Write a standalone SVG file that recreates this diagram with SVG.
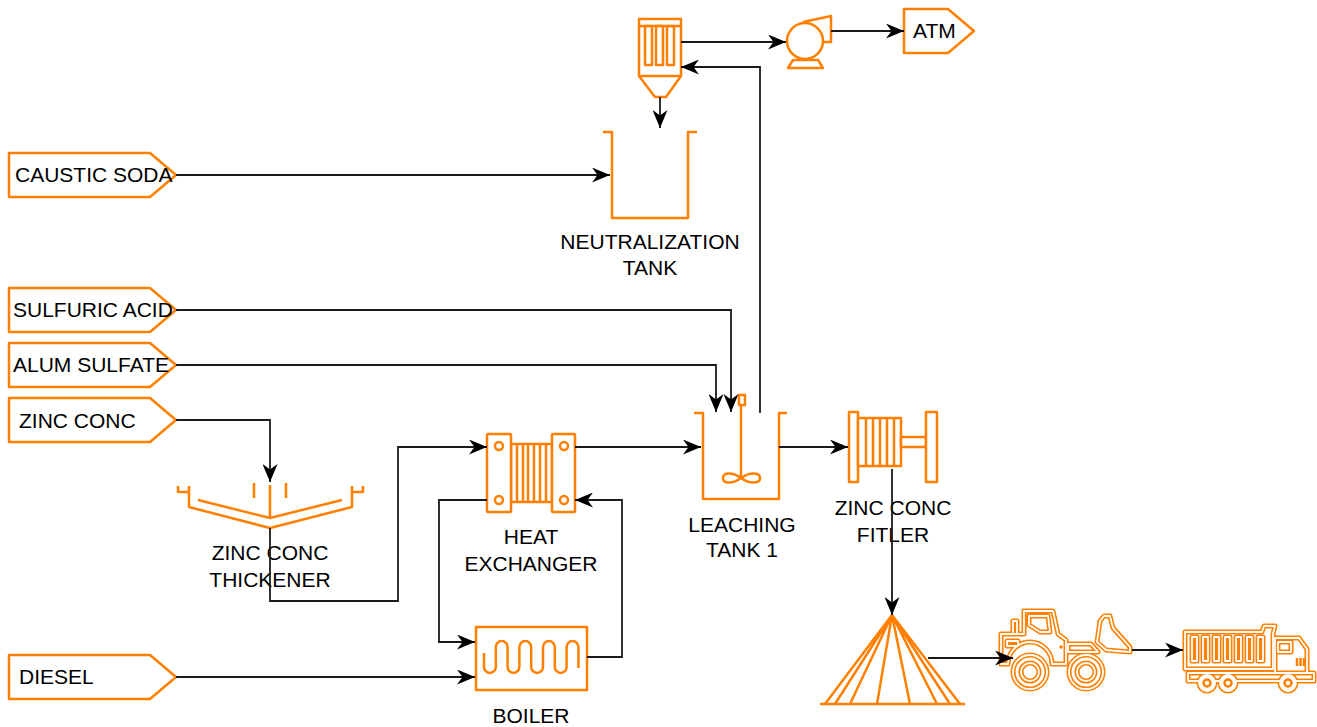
<svg xmlns="http://www.w3.org/2000/svg" width="1317" height="727" viewBox="0 0 1317 727">
  <defs>
    <style>
      .eq { fill: none; stroke: #ff8000; stroke-width: 2.5; stroke-linejoin: round; }
      .eqw { fill: #fff; stroke: #ff8000; stroke-width: 2.5; stroke-linejoin: round; }
      .ico { fill: none; stroke: #ff8000; stroke-width: 5; stroke-linejoin: round; stroke-linecap: round; }
      .icoin { fill: none; stroke: #fff; stroke-width: 1.8; stroke-linejoin: round; stroke-linecap: round; }
      .ln { fill: none; stroke: #1a1a1a; stroke-width: 1.8; marker-end: url(#arr); }
      text { font-family: "Liberation Sans", Arial, sans-serif; font-size: 21px; fill: #000; }
      .c { text-anchor: middle; }
    </style>
    <marker id="arr" viewBox="0 0 18 15" refX="18" refY="7.5" markerWidth="18" markerHeight="15" orient="auto" markerUnits="userSpaceOnUse">
      <path d="M0,0 L18,7.5 L0,15 L5.5,7.5 Z" fill="#000"/>
    </marker>
  </defs>
  <rect width="1317" height="727" fill="#fff"/>

  <!-- inlet / outlet tags -->
  <g id="caustic-soda">
    <path class="eq" d="M9,153 H150 L176,175 L150,197 H9 Z"/>
    <text x="15" y="182">CAUSTIC SODA</text>
  </g>
  <g id="sulfuric-acid">
    <path class="eq" d="M9,288 H150 L176,310 L150,332 H9 Z"/>
    <text x="13" y="317">SULFURIC ACID</text>
  </g>
  <g id="alum-sulfate">
    <path class="eq" d="M9,343 H150 L176,365 L150,387 H9 Z"/>
    <text x="13" y="372">ALUM SULFATE</text>
  </g>
  <g id="zinc-conc">
    <path class="eq" d="M9,398 H150 L176,420 L150,442 H9 Z"/>
    <text x="19" y="428">ZINC CONC</text>
  </g>
  <g id="diesel">
    <path class="eq" d="M9,655 H150 L176,677 L150,699 H9 Z"/>
    <text x="19" y="684">DIESEL</text>
  </g>
  <g id="atm">
    <path class="eq" d="M904,9 H948 L974,31 L948,53 H904 Z"/>
    <text x="913" y="38">ATM</text>
  </g>

  <!-- bag filter -->
  <g id="bag-filter">
    <path class="eqw" d="M639,19 H681 V76 L666,97 H655 L639,76 Z"/>
    <path class="eq" d="M639,26 H681 M639,76 H681"/>
    <rect class="eq" x="645" y="26" width="7" height="39"/>
    <rect class="eq" x="656" y="26" width="7" height="39"/>
    <rect class="eq" x="667" y="26" width="7" height="39"/>
  </g>

  <!-- exhaust fan -->
  <g id="fan">
    <path class="eq" d="M793,60 H818 L823,68 H788 Z"/>
    <path class="eqw" d="M803,22 L831,16 V42 H820"/>
    <circle class="eqw" cx="805" cy="41" r="18"/>
  </g>

  <!-- neutralization tank -->
  <g id="neutralization-tank">
    <path class="eq" d="M603,132 H612 V218 H688 V132 H697"/>
    <text class="c" x="650" y="249">NEUTRALIZATION</text>
    <text class="c" x="650" y="275">TANK</text>
  </g>

  <!-- leaching tank with agitator -->
  <g id="leaching-tank">
    <path class="eq" d="M694,413 H703 V499 H779 V413 H787"/>
    <path class="eq" d="M741,405 V478"/>
    <rect class="eq" x="739" y="395" width="6" height="10"/>
    <path class="eq" d="M741,478 C733,472 723,472 723,478 C723,484 733,484 741,478 C749,472 760,472 760,478 C760,484 749,484 741,478 Z"/>
    <text class="c" x="742" y="532">LEACHING</text>
    <text class="c" x="742" y="557">TANK 1</text>
  </g>

  <!-- filter press -->
  <g id="zinc-conc-filter">
    <rect class="eqw" x="849" y="412" width="9" height="70"/>
    <rect class="eqw" x="858" y="418" width="43" height="48"/>
    <path class="eq" d="M866,418 V466 M873,418 V466 M880,418 V466 M887,418 V466 M894,418 V466"/>
    <rect class="eqw" x="901" y="437" width="25" height="10"/>
    <rect class="eqw" x="926" y="412" width="11" height="70"/>
    <text class="c" x="893" y="515">ZINC CONC</text>
    <text class="c" x="893" y="542">FITLER</text>
  </g>

  <!-- heat exchanger -->
  <g id="heat-exchanger">
    <rect class="eqw" x="511" y="444" width="41" height="58"/>
    <path class="eq" d="M517,444 V502 M523,444 V502 M528,444 V502 M534,444 V502 M540,444 V502 M546,444 V502"/>
    <rect class="eqw" x="487" y="434" width="24" height="78" rx="1"/>
    <rect class="eqw" x="552" y="434" width="23" height="78" rx="1"/>
    <circle class="eq" cx="499" cy="446" r="4"/>
    <circle class="eq" cx="499" cy="500" r="4"/>
    <circle class="eq" cx="564" cy="446" r="4"/>
    <circle class="eq" cx="564" cy="500" r="4"/>
    <text class="c" x="531" y="544">HEAT</text>
    <text class="c" x="531" y="571">EXCHANGER</text>
  </g>

  <!-- boiler -->
  <g id="boiler">
    <rect class="eqw" x="476" y="627" width="111" height="63"/>
    <path class="eq" d="M484,653 V667 A5.9,5.9 0 0 0 495.8,667 V647 A5.9,5.9 0 0 1 507.6,647 V667 A5.9,5.9 0 0 0 519.4,667 V647 A5.9,5.9 0 0 1 531.2,647 V667 A5.9,5.9 0 0 0 543,667 V647 A5.9,5.9 0 0 1 554.8,647 V667 A5.9,5.9 0 0 0 566.6,667 V647 A5.9,5.9 0 0 1 578.4,647 V668"/>
    <text class="c" x="531" y="723">BOILER</text>
  </g>

  <!-- thickener -->
  <g id="zinc-conc-thickener">
    <path class="eq" d="M178,486 V492 H189 V486 M189,492 V507 L270,528 L352,507 V486 M352,492 H363 V486"/>
    <path class="eq" d="M198,500 L270,518 L342,500"/>
    <path class="eq" d="M270,485 V518 M254,483 V498 M286,483 V498"/>
    <text class="c" x="270" y="560">ZINC CONC</text>
    <text class="c" x="270" y="587">THICKENER</text>
  </g>

  <!-- stockpile -->
  <g id="stockpile">
    <path class="eq" d="M820,704 H965"/>
    <path class="eq" d="M892,615 L825,704 M892,615 L835,704 M892,615 L850,704 M892,615 L877,704 M892,615 L910,704 M892,615 L937,704 M892,615 L950,704 M892,615 L960,704"/>
  </g>

  <!-- front loader -->
  <g id="loader">
    <g class="ico">
      <path id="loader-shape" d="M1001,634 H1024 V611 H1053 L1058,634 L1066,640 V664 H1052 A22,22 0 0 0 1008,664 H1001 Z M1029,616 H1048 L1050,632 H1040 L1029,625 Z M1013,634 V621 H1017 V634 M1007,641 H1018 V646 H1007 Z M1068,644 H1091 L1098,652 H1068 Z M1100,621 L1104,616 H1110 L1113,628 L1130,647 V652 L1106,650 L1097,642 Z"/>
      <circle cx="1030" cy="672" r="17"/>
      <circle cx="1030" cy="672" r="9"/>
      <circle cx="1086" cy="672" r="17"/>
      <circle cx="1086" cy="672" r="9"/>
    </g>
    <g class="icoin">
      <use href="#loader-shape"/>
      <circle cx="1030" cy="672" r="17"/>
      <circle cx="1030" cy="672" r="9"/>
      <circle cx="1086" cy="672" r="17"/>
      <circle cx="1086" cy="672" r="9"/>
    </g>
    <circle cx="1061" cy="647" r="1.8" fill="#ff8000"/>
  </g>

  <!-- dump truck -->
  <g id="dump-truck">
    <g class="ico">
      <path id="truck-shape" d="M1185,669 V632 H1262 L1264,626 H1275 L1273,634 V669 Z M1275,669 V638 H1299 L1307,649 V673 H1275 Z M1278,642 H1291 V652 H1278 Z M1188,673 H1314 V681 H1188 Z"/>
      <path d="M1192,637 H1197 V661 H1192 Z M1203,637 H1208 V661 H1203 Z M1214,637 H1219 V661 H1214 Z M1225,637 H1230 V661 H1225 Z M1236,637 H1241 V661 H1236 Z M1247,637 H1252 V661 H1247 Z M1258,637 H1263 V661 H1258 Z"/>
      <circle cx="1207" cy="683" r="8"/>
      <circle cx="1228" cy="683" r="8"/>
      <circle cx="1288" cy="683" r="8"/>
    </g>
    <g class="icoin">
      <use href="#truck-shape"/>
      <path d="M1192,637 H1197 V661 H1192 Z M1203,637 H1208 V661 H1203 Z M1214,637 H1219 V661 H1214 Z M1225,637 H1230 V661 H1225 Z M1236,637 H1241 V661 H1236 Z M1247,637 H1252 V661 H1247 Z M1258,637 H1263 V661 H1258 Z"/>
      <circle cx="1207" cy="683" r="8" fill="#fff"/>
      <circle cx="1228" cy="683" r="8" fill="#fff"/>
      <circle cx="1288" cy="683" r="8" fill="#fff"/>
    </g>
    <g class="eq">
      <circle cx="1207" cy="683" r="3.5"/>
      <circle cx="1228" cy="683" r="3.5"/>
      <circle cx="1288" cy="683" r="3.5"/>
      <path d="M1297,658 V666 M1300.5,658 V666 M1304,658 V666"/>
    </g>
  </g>

  <!-- connectors, drawn last so arrowheads sit on top of the equipment -->
  <g id="connectors">
    <path class="ln" d="M176,175 H610"/>
    <path class="ln" d="M176,310 H731 V412"/>
    <path class="ln" d="M176,365 H716 V412"/>
    <path class="ln" d="M176,420 H270 V482"/>
    <path class="ln" d="M270,528 V601 H398 V447 H487"/>
    <path class="ln" d="M575,447 H701"/>
    <path class="ln" d="M487,500 H439 V642 H475"/>
    <path class="ln" d="M587,657 H622 V500 H575"/>
    <path class="ln" d="M176,677 H475"/>
    <path class="ln" d="M779,447 H848"/>
    <path class="ln" d="M760,413 V67 H681"/>
    <path class="ln" d="M681,42 H786"/>
    <path class="ln" d="M831,31 H904"/>
    <path class="ln" d="M660,97 V128"/>
    <path class="ln" d="M892,469 V615"/>
    <path class="ln" d="M928,658 H1013"/>
    <path class="ln" d="M1132,650 H1183"/>
  </g>
</svg>
